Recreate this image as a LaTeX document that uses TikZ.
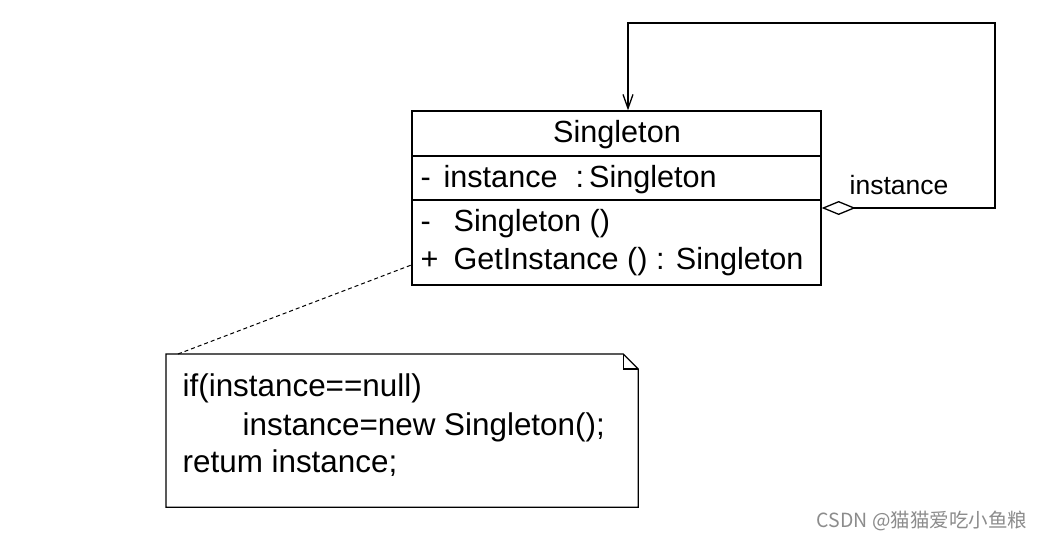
\documentclass[tikz,border=0pt]{standalone}
\usepackage{fontspec}
\setmainfont{Liberation Sans}
\newfontfamily\cjk{Noto Sans CJK SC}
\usetikzlibrary{arrows.meta}
\tikzset{
  umltext/.style={anchor=base west, inner sep=0pt, text=black, font=\fontsize{30.6}{38}\selectfont},
  notatext/.style={umltext, font=\fontsize{31.4}{38}\selectfont},
  marca/.style={anchor=base west, inner sep=0pt, text=black!45, font=\cjk\fontsize{19.5}{22}\selectfont}
}
\begin{document}
\begin{tikzpicture}[x=1pt,y=-1pt,line width=1.3pt]
  \useasboundingbox[fill=white] (0,0) rectangle (1042,538);

  % Clase Singleton
  \node[draw, minimum width=409pt, minimum height=174pt, inner sep=0pt] (cls) at (616.5,198) {};
  \draw (cls.west |- 0,156) -- (cls.east |- 0,156);
  \draw (cls.west |- 0,200) -- (cls.east |- 0,200);
  \node[umltext, anchor=base] (titulo) at (617,142) {Singleton};
  \node[umltext] (atributo) at (420,187) {\makebox[23pt][l]{-}instance\hspace{18pt}:\hspace{5pt}Singleton};
  \node[umltext] (metodo1) at (420,231) {\makebox[33pt][l]{-}Singleton ()};
  \node[umltext] (metodo2) at (420,269) {\makebox[33pt][l]{+}GetInstance () : Singleton};

  % Asociacion consigo misma
  \coordinate (salida) at (cls.east |- 0,208);
  \coordinate (esq1) at (995,208);
  \coordinate (esq2) at (995,23);
  \coordinate (esq3) at (628,23);
  \draw[{Diamond[open,length=34pt,width=14pt]}-{Straight Barb[length=14pt,width=10pt]}]
    (salida) -- (esq1) -- (esq2) -- (esq3) -- (cls.north -| esq3);
  \node[umltext, font=\fontsize{26.5}{30}\selectfont] (rol) at (849,194) {instance};

  % Nota
  \node[minimum width=471pt, minimum height=152pt, anchor=north west, inner sep=0pt] (nota) at (166,354) {};
  \draw (nota.north west) -- ([xshift=-15pt]nota.north east) -- ([yshift=-15pt]nota.north east)
    -- (nota.south east) -- (nota.south west) -- cycle;
  \draw ([xshift=-15pt]nota.north east) |- ([yshift=-15pt]nota.north east);
  \node[notatext] (linea1) at (182,396) {if(instance==null)};
  \node[notatext] (linea2) at (242,435) {instance=new Singleton();};
  \node[notatext] (linea3) at (182,472) {retum instance;};

  % Enlace de la nota
  \coordinate (pin) at (178,354);
  \coordinate (clspin) at (cls.west |- 0,265);
  \draw[line width=1pt, dash pattern=on 4pt off 3pt] (pin) -- (clspin);

  \node[marca] (firma) at (816,527) {CSDN @猫猫爱吃小鱼粮};
\end{tikzpicture}
\end{document}
